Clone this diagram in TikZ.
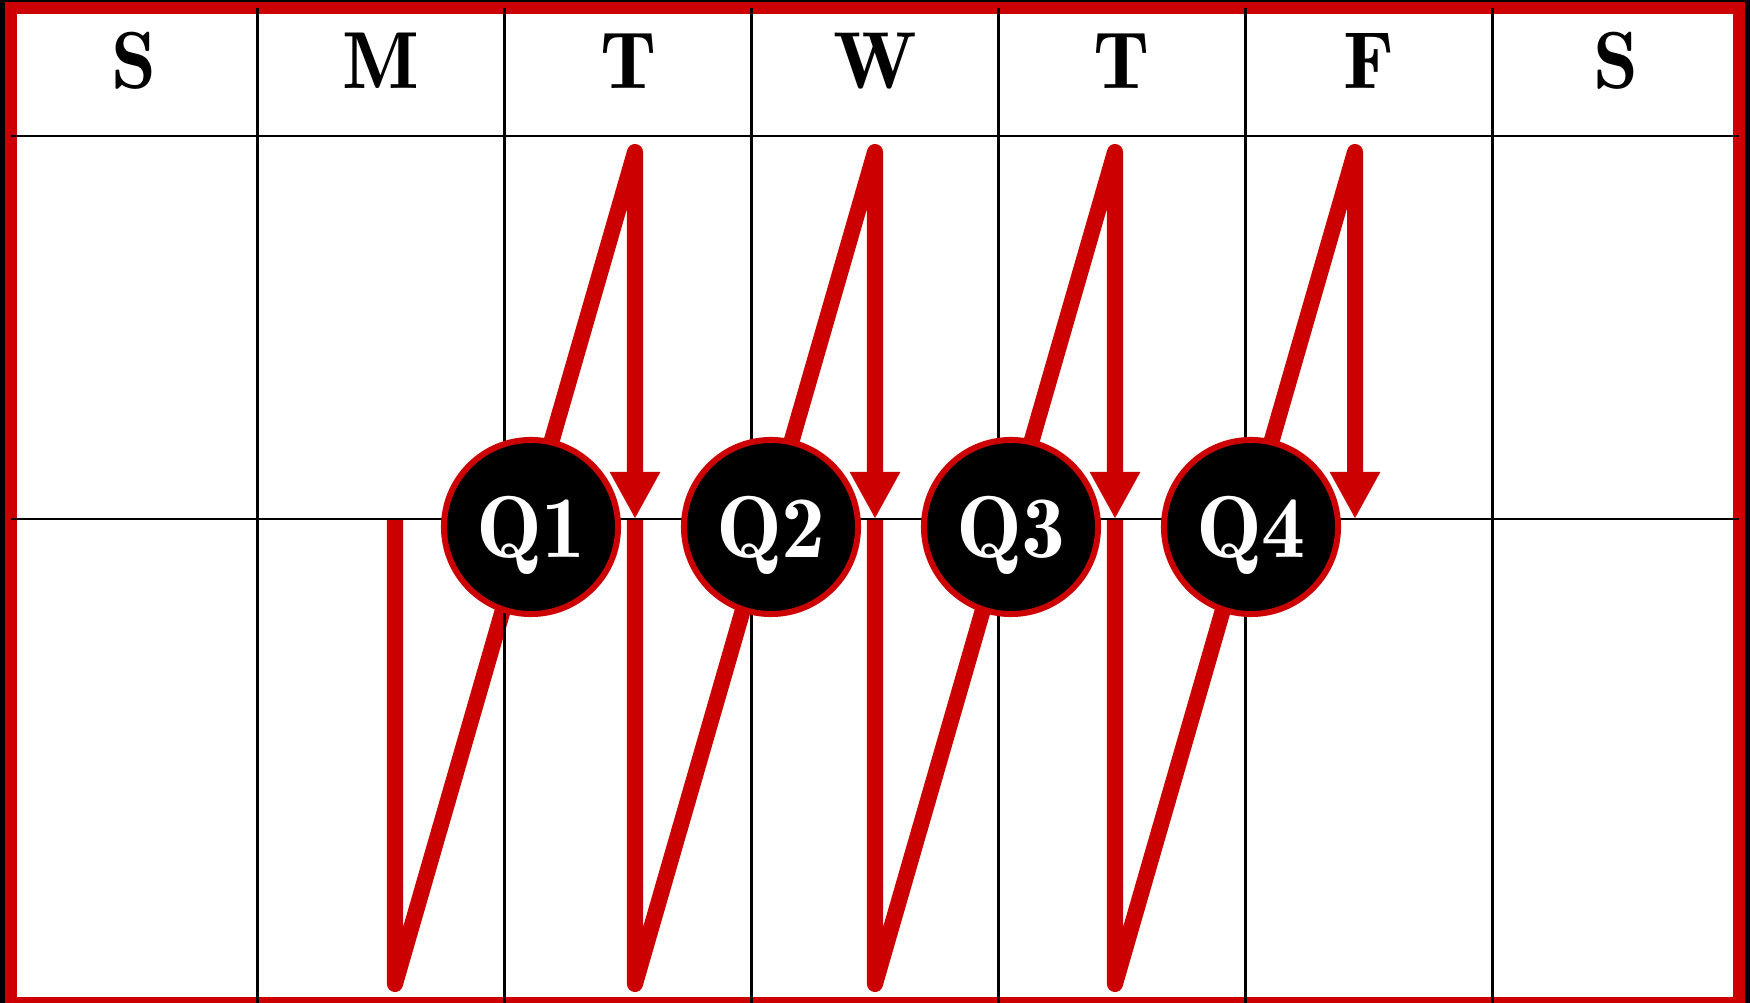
\documentclass[tikz,border=0pt]{standalone}
\usetikzlibrary{arrows.meta}
\definecolor{cred}{RGB}{204,0,0}
\begin{document}
\begin{tikzpicture}[x=0.01cm,y=-0.01cm,
  zig/.style={draw=cred, line width=0.16cm, line join=round, -{Triangle[length=0.47cm,width=0.47cm]}},
  gridline/.style={black, line width=0.028cm},
  qnode/.style={circle, fill=black, draw=cred, line width=0.06cm, minimum size=1.74cm, inner sep=0pt, text=white, font=\fontsize{25}{25}\fontseries{b}\selectfont, text depth=0pt},
  day/.style={anchor=base, inner sep=0pt, font=\fontsize{23}{23}\fontseries{b}\selectfont}]
\useasboundingbox (0,0) rectangle (1750,1003);
\fill[black] (0,0) rectangle (1750,1003);
\filldraw[fill=white, draw=cred, line width=0.12cm] (11,8) rectangle (1739,1003);
% header
\foreach \t [count=\i from 0] in {S,M,T,W,T,F,S}
  \node[day] (d\i) at ({11+246.857*(\i+0.5)},88) {\t};
% zigzag coordinates
\foreach \k in {0,...,4}{
  \coordinate (m\k) at ({395+240*\k},519);
  \coordinate (b\k) at ({395+240*\k},984);
  \coordinate (t\k) at ({395+240*\k},152);
}
\draw[zig] (m0) -- (b0) -- (t1) -- (m1);
\draw[zig] (m1) -- (b1) -- (t2) -- (m2);
\draw[zig] (m2) -- (b2) -- (t3) -- (m3);
\draw[zig] (m3) -- (b3) -- (t4) -- (m4);
% grid
\foreach \i in {1,...,6}
  \draw[gridline] ({11+246.857*\i},8) -- ({11+246.857*\i},1003);
\draw[gridline] (11,136) -- (1739,136);
\draw[gridline] (11,519) -- (1739,519);
% quarter nodes
\node[qnode] (q1) at (531,527) {Q1};
\node[qnode] (q2) at (771,527) {Q2};
\node[qnode] (q3) at (1011,527) {Q3};
\node[qnode] (q4) at (1251,527) {Q4};
\end{tikzpicture}
\end{document}
